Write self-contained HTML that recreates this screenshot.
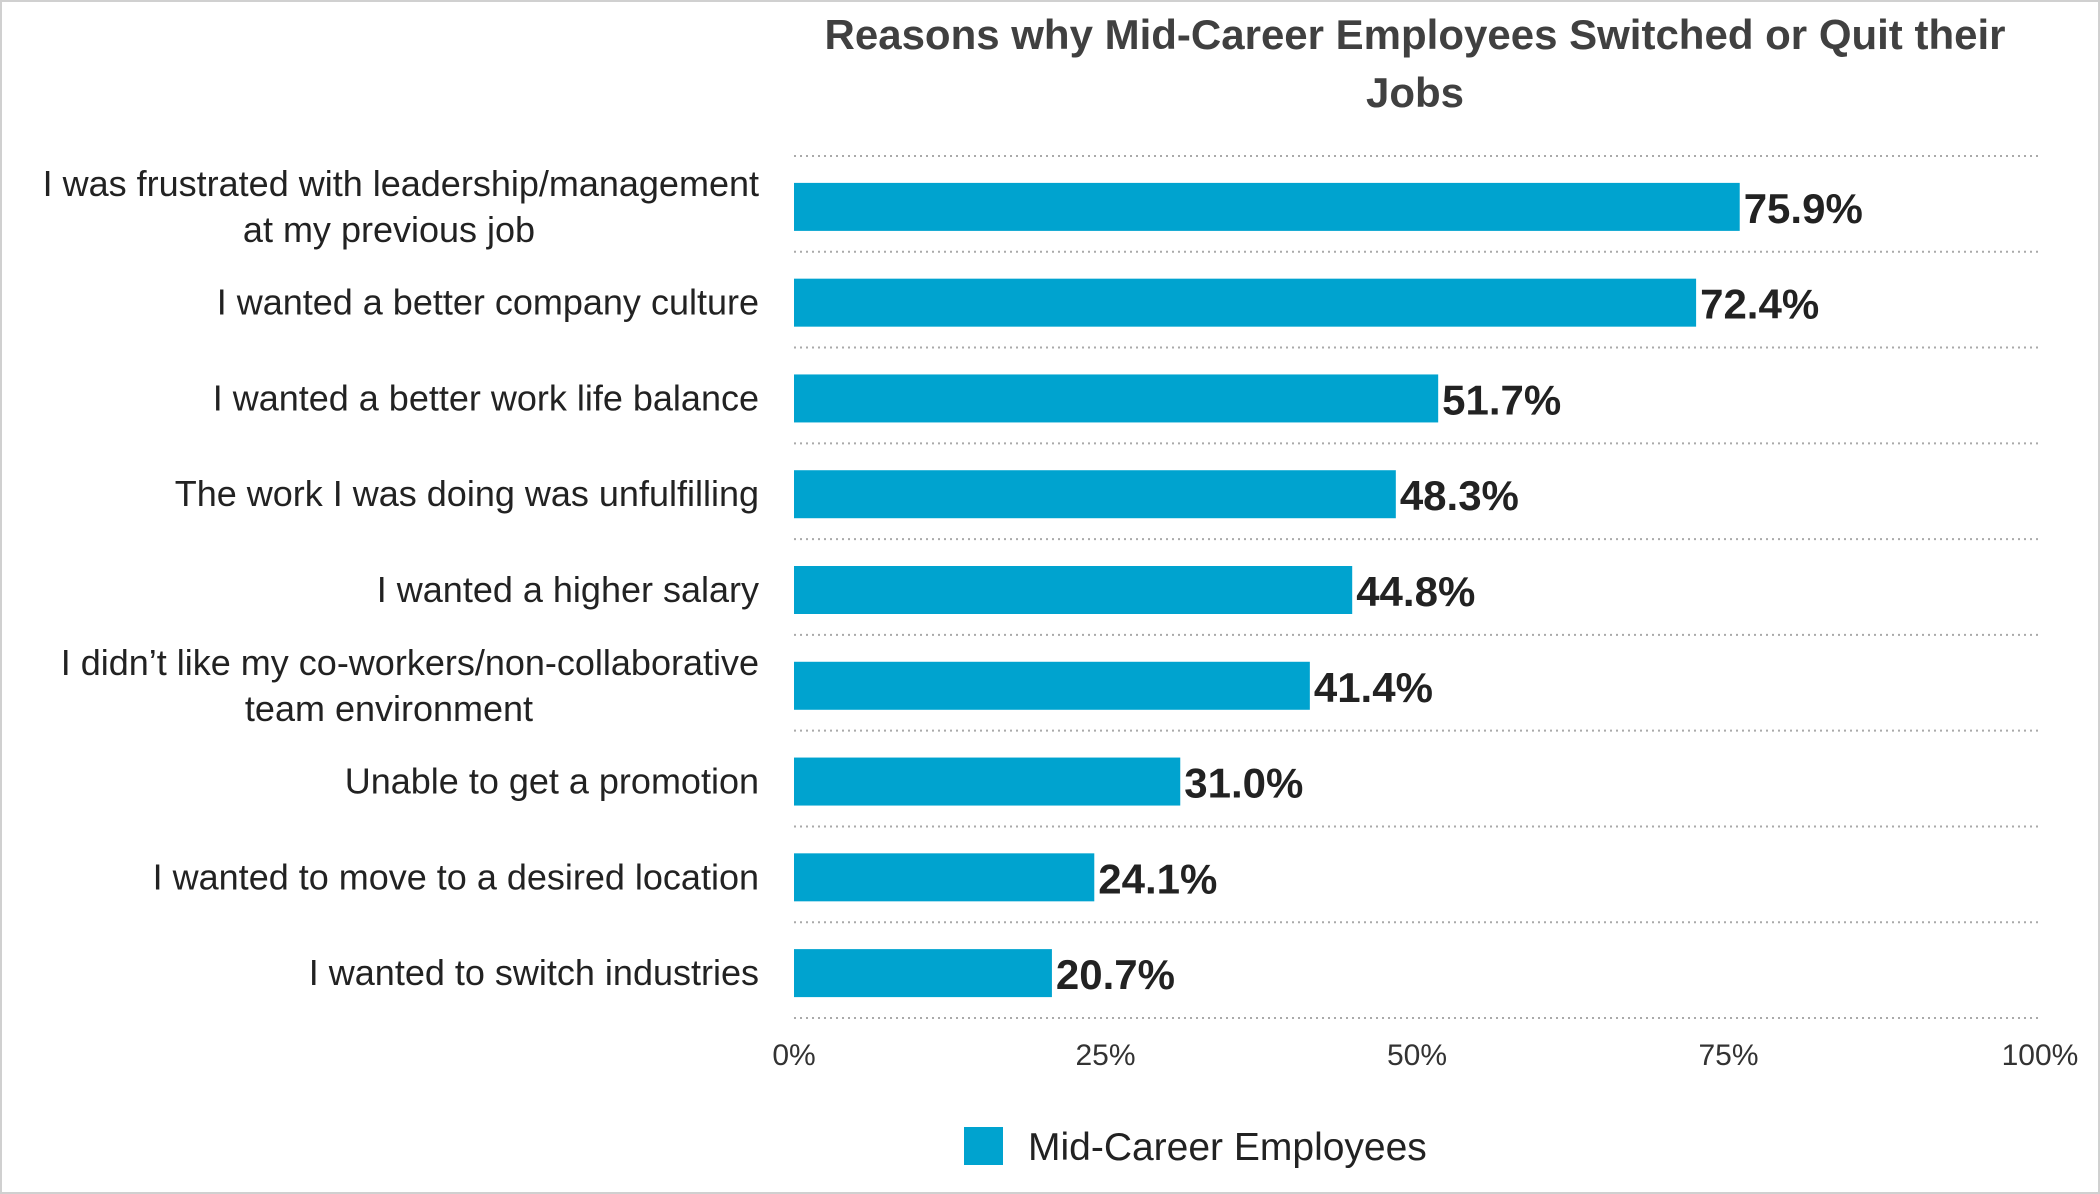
<!DOCTYPE html>
<html><head><meta charset="utf-8"><style>
html,body{margin:0;padding:0;background:#fff;}
svg{display:block;font-family:"Liberation Sans",sans-serif;}
</style></head><body>
<svg id="chart" width="2100" height="1194" xmlns="http://www.w3.org/2000/svg">
<rect x="1" y="1" width="2098" height="1192" fill="#fff" stroke="#d0d0d0" stroke-width="2"/>
<text x="1415" y="49" text-anchor="middle" font-size="42" font-weight="bold" fill="#404040">Reasons why Mid-Career Employees Switched or Quit their</text>
<text x="1415" y="107" text-anchor="middle" font-size="42" font-weight="bold" fill="#404040">Jobs</text>
<g id="plot"></g>
<rect x="964" y="1127" width="39" height="38" fill="#00A3CF"/>
<text x="1028" y="1160" font-size="39" fill="#222">Mid-Career Employees</text>
</svg>
<script>
const categories = [
 ["I was frustrated with leadership/management","at my previous job"],
 ["I wanted a better company culture"],
 ["I wanted a better work life balance"],
 ["The work I was doing was unfulfilling"],
 ["I wanted a higher salary"],
 ["I didn\u2019t like my co-workers/non-collaborative","team environment"],
 ["Unable to get a promotion"],
 ["I wanted to move to a desired location"],
 ["I wanted to switch industries"]
];
const values = [75.9, 72.4, 51.7, 48.3, 44.8, 41.4, 31.0, 24.1, 20.7];
const ticks = [0, 25, 50, 75, 100];

const NS = "http://www.w3.org/2000/svg";
const x0 = 794, x1 = 2040, yTop = 156, yBot = 1018;
const band = (yBot - yTop) / categories.length;
const xs = v => x0 + (x1 - x0) * v / 100;
const yc = i => yTop + band * (i + 0.5) + 3;
const g = document.getElementById('plot');
function mk(tag, attrs, text) {
  const e = document.createElementNS(NS, tag);
  for (const k in attrs) e.setAttribute(k, attrs[k]);
  if (text !== undefined) e.textContent = text;
  g.appendChild(e);
  return e;
}
for (let i = 0; i <= categories.length; i++) {
  const y = yTop + band * i;
  const l = mk('line', {x1: x0, x2: x1, y1: y, y2: y, stroke: '#aaa', 'stroke-width': 2, 'stroke-dasharray': '2 4'});
  
  
}
categories.forEach((lines, i) => {
  const c = yc(i);
  const b = mk('rect', {x: x0, y: c - 24, width: xs(values[i]) - x0, height: 48, fill: '#00A3CF'});
  
  
  const v = mk('text', {x: xs(values[i]) + 4, y: c + 16, 'font-size': 42, 'font-weight': 'bold', fill: '#222'}, values[i].toFixed(1) + '%');
  
  
  lines.forEach((t, j) => {
    const y = c + 12 + (j - (lines.length - 1) / 2) * 46;
    const anchor = j === 0 ? 'end' : 'middle';
    const xx = j === 0 ? 759 : 759 - 370;
    const tx = mk('text', {x: xx, y: y, 'font-size': 36, fill: '#222', 'text-anchor': anchor}, t);
    
    
  });
});
ticks.forEach(t => {
  const tx = mk('text', {x: xs(t), y: 1065, 'font-size': 30, fill: '#333', 'text-anchor': 'middle'}, t + '%');
  
  
});
</script>
</body></html>
